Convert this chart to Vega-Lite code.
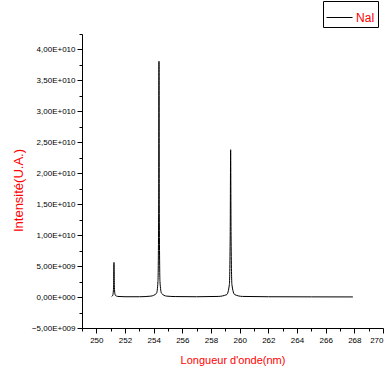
{
  "$schema": "https://vega.github.io/schema/vega-lite/v6.json",
  "width": 301,
  "height": 294,
  "autosize": {"type": "none"},
  "padding": {"left": 82, "top": 34, "right": 7, "bottom": 50},
  "background": "white",
  "config": {
    "view": {"stroke": null},
    "font": "Liberation Sans",
    "axis": {"grid": false, "domainColor": "black", "tickColor": "black", "labelColor": "black", "labelFont": "Liberation Sans", "titleFont": "Liberation Sans", "titleFontWeight": "normal", "titleColor": "#ff0000", "titleFontSize": 11, "labelFontSize": 8}
  },
  "data": {"values": [
    {"wl": 251.07, "I": 0.1e9, "s": "NaI"},
    {"wl": 251.15, "I": 0.3e9, "s": "NaI"},
    {"wl": 251.2, "I": 1.5e9, "s": "NaI"},
    {"wl": 251.23, "I": 5.6e9, "s": "NaI"},
    {"wl": 251.26, "I": 1.5e9, "s": "NaI"},
    {"wl": 251.32, "I": 0.3e9, "s": "NaI"},
    {"wl": 251.5, "I": 0.1e9, "s": "NaI"},
    {"wl": 252, "I": 0.05e9, "s": "NaI"},
    {"wl": 253, "I": 0.05e9, "s": "NaI"},
    {"wl": 253.8, "I": 0.15e9, "s": "NaI"},
    {"wl": 254.2, "I": 0.6e9, "s": "NaI"},
    {"wl": 254.3, "I": 2.5e9, "s": "NaI"},
    {"wl": 254.35, "I": 15e9, "s": "NaI"},
    {"wl": 254.37, "I": 38.1e9, "s": "NaI"},
    {"wl": 254.39, "I": 15e9, "s": "NaI"},
    {"wl": 254.44, "I": 2.5e9, "s": "NaI"},
    {"wl": 254.55, "I": 0.6e9, "s": "NaI"},
    {"wl": 254.9, "I": 0.15e9, "s": "NaI"},
    {"wl": 255.5, "I": 0.08e9, "s": "NaI"},
    {"wl": 257, "I": 0.05e9, "s": "NaI"},
    {"wl": 258.5, "I": 0.1e9, "s": "NaI"},
    {"wl": 259.1, "I": 0.4e9, "s": "NaI"},
    {"wl": 259.28, "I": 2e9, "s": "NaI"},
    {"wl": 259.34, "I": 10e9, "s": "NaI"},
    {"wl": 259.37, "I": 23.8e9, "s": "NaI"},
    {"wl": 259.4, "I": 10e9, "s": "NaI"},
    {"wl": 259.46, "I": 2e9, "s": "NaI"},
    {"wl": 259.65, "I": 0.4e9, "s": "NaI"},
    {"wl": 260.2, "I": 0.1e9, "s": "NaI"},
    {"wl": 262, "I": 0.05e9, "s": "NaI"},
    {"wl": 265, "I": 0.03e9, "s": "NaI"},
    {"wl": 267.9, "I": 0.02e9, "s": "NaI"}
  ]},
  "mark": {"type": "line", "strokeWidth": 1, "interpolate": "monotone", "clip": true},
  "encoding": {
    "x": {
      "field": "wl", "type": "quantitative",
      "scale": {"domain": [249, 270], "nice": false, "zero": false},
      "axis": {
        "title": "Longueur d'onde(nm)",
        "values": [249, 250, 251, 252, 253, 254, 255, 256, 257, 258, 259, 260, 261, 262, 263, 264, 265, 266, 267, 268, 269, 270],
        "labelExpr": "datum.value % 2 === 0 ? toString(datum.value) : ''",
        "tickSize": {"condition": {"test": "datum.value % 2 === 0", "value": 5}, "value": 3},
        "labelPadding": 3,
        "titlePadding": 10
      }
    },
    "y": {
      "field": "I", "type": "quantitative",
      "scale": {"domain": [-5e9, 4.25e10], "nice": false, "zero": false},
      "axis": {
        "title": "Intensité(U.A.)",
        "titleFontSize": 13,
        "titleY": 156,
        "values": [-5e9, -2.5e9, 0, 2.5e9, 5e9, 7.5e9, 10e9, 12.5e9, 15e9, 17.5e9, 20e9, 22.5e9, 25e9, 27.5e9, 30e9, 32.5e9, 35e9, 37.5e9, 40e9, 42.5e9],
        "labelExpr": "datum.value % 5e9 !== 0 ? '' : (datum.value === 0 ? '0,00E+000' : replace(format(datum.value / pow(10, floor(log(abs(datum.value)) / LN10 + 1e-9)), '.2f'), '.', ',') + 'E+' + pad(toString(floor(log(abs(datum.value)) / LN10 + 1e-9)), 3, '0', 'left'))",
        "tickSize": {"condition": {"test": "datum.value % 5e9 === 0", "value": 5}, "value": 3},
        "labelPadding": 2,
        "titlePadding": 6
      }
    },
    "color": {
      "field": "s", "type": "nominal",
      "scale": {"range": ["black"]},
      "legend": {
        "title": null,
        "orient": "none",
        "legendX": 241,
        "legendY": -33,
        "strokeColor": "black",
        "padding": 3,
        "symbolType": "stroke",
        "symbolSize": 676,
        "symbolStrokeWidth": 1,
        "labelColor": "#ff0000",
        "labelFontSize": 12,
        "labelOffset": 3,
        "labelFont": "Liberation Sans"
      }
    }
  }
}
